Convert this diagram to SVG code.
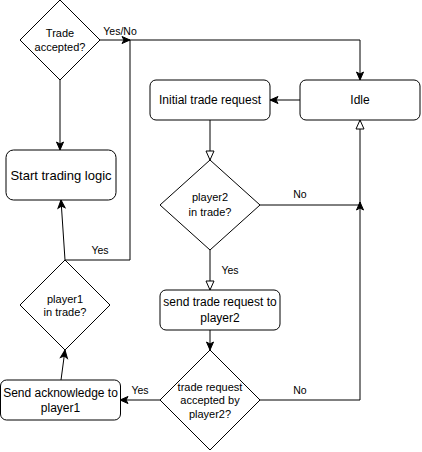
<svg xmlns="http://www.w3.org/2000/svg" width="422" height="452" viewBox="0 0 422 452">
<style>
.n{fill:#fff;stroke:#000;stroke-width:1}
.t{font-family:"Liberation Sans",Arial,sans-serif;font-size:12px;fill:#000;text-anchor:middle}
.d{font-size:11px}
.big{font-size:13px}
.e{fill:none;stroke:#000;stroke-width:1}
.l{font-family:"Liberation Sans",Arial,sans-serif;font-size:10.5px;fill:#000;text-anchor:middle}
</style>
<defs>
<marker id="cl" markerUnits="userSpaceOnUse" markerWidth="10" markerHeight="10" refX="8" refY="3.5" orient="auto" overflow="visible">
<path d="M0,0 L8,3.5 L0,7 L2,3.5 z" fill="#000" stroke="#000" stroke-width="1"/>
</marker>
<marker id="bl" markerUnits="userSpaceOnUse" markerWidth="10" markerHeight="10" refX="9" refY="4" orient="auto" overflow="visible">
<path d="M0,0 L9,4 L0,8 z" fill="#fff" stroke="#000" stroke-width="1"/>
</marker>
</defs>
<rect width="422" height="452" fill="#fff"/>
<g id="connectors">
<path class="e" d="M100,40 L130,40" marker-end="url(#cl)"/>
<path class="e" d="M60,80 L60,150" marker-end="url(#cl)"/>
<path class="e" d="M65,260 L61,200" marker-end="url(#cl)"/>
<path class="e" d="M65,260 L130,260 L130,40 L360,40 L360,80" marker-end="url(#cl)"/>
<path class="e" d="M300,100 L270,100" marker-end="url(#cl)"/>
<path class="e" d="M210,120 L210,160" marker-end="url(#bl)"/>
<path class="e" d="M260,205 L360,205 L360,202" marker-end="url(#cl)"/>
<path class="e" d="M210,250 L210,290" marker-end="url(#bl)"/>
<path class="e" d="M210,330 L210,350" marker-end="url(#cl)"/>
<path class="e" d="M260,400 L360,400 L360,120" marker-end="url(#bl)"/>
<path class="e" d="M160,400 L120,400" marker-end="url(#cl)"/>
<path class="e" d="M61,380 L65,350" marker-end="url(#cl)"/>
<text class="l" x="120" y="35">Yes/No</text>
<text class="l" x="100" y="254">Yes</text>
<text class="l" x="300" y="198">No</text>
<text class="l" x="230" y="274">Yes</text>
<text class="l" x="300" y="394">No</text>
<text class="l" x="140" y="394">Yes</text>
</g>
<g id="trade-accepted">
<path class="n" d="M60,0 L100,40 L60,80 L20,40 z"/>
<text class="t d" x="60" y="37">Trade</text>
<text class="t d" x="60" y="51">accepted?</text>
</g>
<g id="start-trading-logic">
<rect class="n" x="6" y="150" width="110" height="50" rx="7.5"/>
<text class="t big" x="61" y="180">Start trading logic</text>
</g>
<g id="idle">
<rect class="n" x="300" y="80" width="120" height="40" rx="6"/>
<text class="t" x="360" y="104">Idle</text>
</g>
<g id="initial-trade-request">
<rect class="n" x="150" y="80" width="120" height="40" rx="6"/>
<text class="t" x="210" y="104">Initial trade request</text>
</g>
<g id="player2-in-trade">
<path class="n" d="M210,160 L260,205 L210,250 L160,205 z"/>
<text class="t d" x="210" y="201">player2</text>
<text class="t d" x="210" y="216">in trade?</text>
</g>
<g id="send-trade-request">
<rect class="n" x="160" y="290" width="120" height="40" rx="6"/>
<text class="t" x="220" y="306">send trade request to</text>
<text class="t" x="220" y="322">player2</text>
</g>
<g id="trade-request-accepted">
<path class="n" d="M210,350 L260,400 L210,450 L160,400 z"/>
<text class="t d" x="210" y="390.5">trade request</text>
<text class="t d" x="210" y="404">accepted by</text>
<text class="t d" x="210" y="417.5">player2?</text>
</g>
<g id="send-acknowledge">
<rect class="n" x="0.5" y="380" width="120" height="40" rx="6"/>
<text class="t" x="60.5" y="397">Send acknowledge to</text>
<text class="t" x="60.5" y="412">player1</text>
</g>
<g id="player1-in-trade">
<path class="n" d="M65,260 L110,305 L65,350 L20,305 z"/>
<text class="t d" x="65" y="303">player1</text>
<text class="t d" x="65" y="316">in trade?</text>
</g>
</svg>
